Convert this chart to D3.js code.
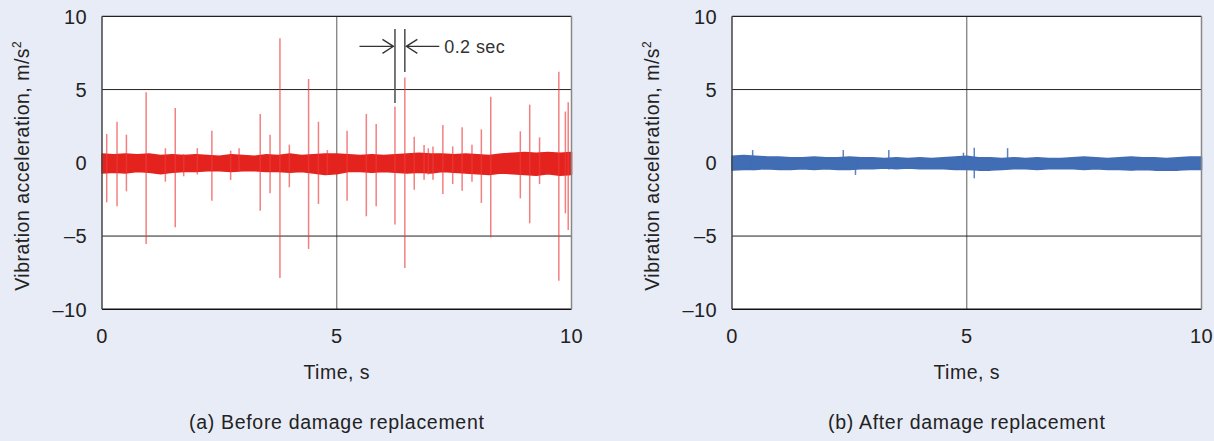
<!DOCTYPE html>
<html>
<head>
<meta charset="utf-8">
<script src="https://cdn.jsdelivr.net/npm/d3@7"></script>
<style>
  html, body { margin: 0; padding: 0; background: #e8ecf6; }
  svg { display: block; font-family: "Liberation Sans", Arial, Helvetica, sans-serif; }
</style>
</head>
<body>
<div id="chart"></div>
<script>
const width = 1214;
const height = 441;

// ticks
const timeTicks = [0, 5, 10];
const accelTicks = [10, 5, 0, -5, -10];

// envelope of the dense vibration band, sampled every 0.25 s
const bandTimes = [0, 0.25, 0.5, 0.75, 1, 1.25, 1.5, 1.75, 2, 2.25, 2.5, 2.75, 3, 3.25, 3.5, 3.75,
  4, 4.25, 4.5, 4.75, 5, 5.25, 5.5, 5.75, 6, 6.25, 6.5, 6.75, 7, 7.25, 7.5, 7.75,
  8, 8.25, 8.5, 8.75, 9, 9.25, 9.5, 9.75, 10];
const beforeUpper = [0.6, 0.55, 0.6, 0.55, 0.6, 0.5, 0.55, 0.5, 0.55, 0.5, 0.45, 0.55, 0.5, 0.45, 0.55, 0.5,
  0.6, 0.5, 0.55, 0.6, 0.6, 0.55, 0.5, 0.55, 0.5, 0.55, 0.6, 0.65, 0.6, 0.6, 0.55, 0.6,
  0.55, 0.5, 0.6, 0.65, 0.7, 0.65, 0.7, 0.65, 0.7];
const beforeLower = [-0.7, -0.65, -0.7, -0.6, -0.65, -0.75, -0.65, -0.6, -0.6, -0.55, -0.55, -0.6, -0.55, -0.55, -0.6, -0.6,
  -0.65, -0.6, -0.7, -0.8, -0.75, -0.6, -0.6, -0.65, -0.6, -0.65, -0.7, -0.65, -0.7, -0.6, -0.65, -0.7,
  -0.75, -0.8, -0.7, -0.75, -0.8, -0.85, -0.75, -0.85, -0.8];
const afterUpper = [0.45, 0.5, 0.45, 0.4, 0.4, 0.35, 0.35, 0.4, 0.35, 0.35, 0.4, 0.35, 0.35, 0.3, 0.35, 0.3,
  0.35, 0.3, 0.35, 0.4, 0.45, 0.35, 0.35, 0.3, 0.35, 0.3, 0.35, 0.3, 0.3, 0.35, 0.4, 0.35,
  0.3, 0.35, 0.4, 0.35, 0.35, 0.3, 0.35, 0.4, 0.4];
const afterLower = [-0.5, -0.45, -0.45, -0.4, -0.45, -0.45, -0.4, -0.45, -0.4, -0.45, -0.45, -0.4, -0.4, -0.35, -0.4, -0.35,
  -0.4, -0.4, -0.4, -0.45, -0.45, -0.5, -0.5, -0.45, -0.4, -0.4, -0.45, -0.4, -0.4, -0.4, -0.45, -0.4,
  -0.45, -0.45, -0.5, -0.45, -0.5, -0.5, -0.5, -0.45, -0.45];

// impact spikes (time, peak, trough)
const beforeSpikeTimes = [0.10, 0.32, 0.52, 0.94, 1.35, 1.56, 1.74, 2.03, 2.34, 2.74, 2.92, 3.37, 3.58, 3.79,
  3.99, 4.40, 4.61, 4.80, 5.22, 5.63, 5.84, 6.24, 6.45, 6.65, 6.86, 6.95, 7.05, 7.26, 7.47, 7.67,
  7.88, 8.08, 8.28, 8.91, 9.11, 9.32, 9.73, 9.87, 9.93];
const beforeSpikeMax = [1.97, 2.8, 1.92, 4.81, 0.99, 3.74, 0.6, 1.0, 2.19, 0.83, 0.99, 3.33, 1.92, 8.5,
  1.24, 5.72, 2.8, 0.87, 2.19, 3.33, 2.65, 3.85, 5.83, 1.78, 1.21, 0.99, 1.12, 2.58, 1.12, 2.42,
  1.24, 2.28, 4.51, 2.15, 3.97, 1.74, 6.22, 3.5, 4.13];
const beforeSpikeMin = [-2.7, -2.97, -1.95, -5.54, -1.29, -4.4, -0.92, -0.8, -2.59, -1.17, -0.6, -3.27, -2.08, -7.86,
  -1.67, -5.88, -2.81, -0.8, -2.59, -3.65, -2.97, -4.22, -7.18, -1.84, -1.15, -0.8, -1.15, -2.13, -1.45, -1.9,
  -1.29, -2.74, -5.09, -2.43, -4.13, -1.45, -8.05, -3.45, -4.59];

const afterSpikeTimes = [0.44, 2.37, 2.63, 3.34, 4.93, 5.16, 5.87];
const afterSpikeMax = [0.87, 0.87, 0.4, 0.87, 0.69, 1.03, 1.0];
const afterSpikeMin = [-0.5, -0.45, -0.83, -0.45, -0.45, -1.06, -0.45];

// "0.2 sec" marker
const markTimes = [6.24, 6.45];
const markTops = [9.13, 9.13];
const markBottoms = [4.08, 6.2];

const svg = d3.select("#chart").append("svg")
    .attr("width", width)
    .attr("height", height);

svg.append("rect").attr("width", width).attr("height", height).attr("fill", "#e8ecf6");

function drawPanel(left, opts) {
  const x = d3.scaleLinear().domain([0, 10]).range([left, left + 469.5]);
  const y = d3.scaleLinear().domain([-10, 10]).range([309.3, 16.3]);
  const g = svg.append("g");

  g.append("rect")
    .attr("x", x(0)).attr("y", y(10))
    .attr("width", x(10) - x(0)).attr("height", y(-10) - y(10))
    .attr("fill", "#fff");

  // grid
  g.append("line")
    .attr("x1", x(5)).attr("x2", x(5)).attr("y1", y(10)).attr("y2", y(-10))
    .attr("stroke", "#777").attr("stroke-width", 1.2);
  g.selectAll(".hgrid").data([5, -5]).enter().append("line")
    .attr("x1", x(0)).attr("x2", x(10))
    .attr("y1", d => y(d)).attr("y2", d => y(d))
    .attr("stroke", "#222").attr("stroke-width", 1);

  // band
  const area = d3.area()
    .x((d, i) => x(bandTimes[i]))
    .y0((d, i) => y(opts.lower[i]))
    .y1(d => y(d));
  g.append("path")
    .datum(opts.upper)
    .attr("d", area)
    .attr("fill", opts.color)
    .attr("stroke", opts.color)
    .attr("stroke-width", 1.5)
    .attr("stroke-linejoin", "round");

  // spikes
  g.selectAll(".spike").data(opts.spikeTimes).enter().append("line")
    .attr("x1", d => x(d)).attr("x2", d => x(d))
    .attr("y1", (d, i) => y(opts.spikeMax[i]))
    .attr("y2", (d, i) => y(opts.spikeMin[i]))
    .attr("stroke", opts.spikeColor)
    .attr("stroke-width", 1.5);

  // frame
  g.append("line").attr("x1", x(0)).attr("x2", x(10)).attr("y1", y(10)).attr("y2", y(10))
    .attr("stroke", "#222").attr("stroke-width", 1.2);
  g.append("line").attr("x1", x(0)).attr("x2", x(10)).attr("y1", y(-10)).attr("y2", y(-10))
    .attr("stroke", "#111").attr("stroke-width", 1.5);
  g.append("line").attr("x1", x(0)).attr("x2", x(0)).attr("y1", y(10)).attr("y2", y(-10))
    .attr("stroke", "#444").attr("stroke-width", 1.5);
  g.append("line").attr("x1", x(10)).attr("x2", x(10)).attr("y1", y(10)).attr("y2", y(-10))
    .attr("stroke", "#888").attr("stroke-width", 1.5);

  // tick labels
  g.selectAll(".ylab").data(accelTicks).enter().append("text")
    .attr("x", x(0) - 15).attr("y", d => y(d))
    .attr("dy", "0.36em")
    .attr("text-anchor", "end")
    .attr("font-size", 20).attr("letter-spacing", 0.4).attr("fill", "#222")
    .text(d => d < 0 ? "\u2013" + Math.abs(d) : d);
  g.selectAll(".xlab").data(timeTicks).enter().append("text")
    .attr("x", d => x(d)).attr("y", 343)
    .attr("text-anchor", "middle")
    .attr("font-size", 20).attr("letter-spacing", 0.4).attr("fill", "#222")
    .text(d => d);

  // axis titles
  const yt = g.append("text")
    .attr("transform", `translate(${left - 73},${y(0) + 3}) rotate(-90)`)
    .attr("text-anchor", "middle")
    .attr("font-size", 19.5).attr("letter-spacing", 0.5).attr("fill", "#222");
  yt.append("tspan").text("Vibration acceleration, m/s");
  yt.append("tspan").attr("font-size", 12).attr("dy", -8).text("2");

  g.append("text")
    .attr("x", x(5)).attr("y", 379)
    .attr("text-anchor", "middle")
    .attr("font-size", 19.5).attr("letter-spacing", 0.5).attr("fill", "#222")
    .text("Time, s");

  g.append("text")
    .attr("x", x(5)).attr("y", 429)
    .attr("text-anchor", "middle")
    .attr("font-size", 19.5).attr("letter-spacing", 0.7).attr("fill", "#222")
    .text(opts.caption);

  return { g, x, y };
}

const a = drawPanel(102, {
  upper: beforeUpper, lower: beforeLower,
  spikeTimes: beforeSpikeTimes, spikeMax: beforeSpikeMax, spikeMin: beforeSpikeMin,
  color: "#e5231e", spikeColor: "rgba(236, 60, 60, 0.65)",
  caption: "(a) Before damage replacement"
});

drawPanel(732, {
  upper: afterUpper, lower: afterLower,
  spikeTimes: afterSpikeTimes, spikeMax: afterSpikeMax, spikeMin: afterSpikeMin,
  color: "#416db5", spikeColor: "rgba(65, 109, 181, 0.85)",
  caption: "(b) After damage replacement"
});

// 0.2 sec annotation
const ann = a.g.append("g").attr("stroke", "#333").attr("fill", "none");
ann.selectAll(".mark").data(markTimes).enter().append("line")
  .attr("x1", d => a.x(d)).attr("x2", d => a.x(d))
  .attr("y1", (d, i) => a.y(markTops[i]))
  .attr("y2", (d, i) => a.y(markBottoms[i]))
  .attr("stroke", "#555").attr("stroke-width", 1.6);
const ay = a.y(7.95);
const xl = a.x(markTimes[0]) - 1.5, xr = a.x(markTimes[1]) + 1.5;
ann.append("path")
  .attr("d", `M${xl - 34},${ay}H${xl} M${xl - 11},${ay - 7}L${xl},${ay}L${xl - 11},${ay + 7}`)
  .attr("stroke-width", 1.3);
ann.append("path")
  .attr("d", `M${xr + 33},${ay}H${xr} M${xr + 11},${ay - 7}L${xr},${ay}L${xr + 11},${ay + 7}`)
  .attr("stroke-width", 1.3);
a.g.append("text")
  .attr("x", xr + 38).attr("y", ay).attr("dy", "0.35em")
  .attr("font-size", 18).attr("letter-spacing", 0.4).attr("fill", "#333")
  .text("0.2 sec");
</script>
</body>
</html>
